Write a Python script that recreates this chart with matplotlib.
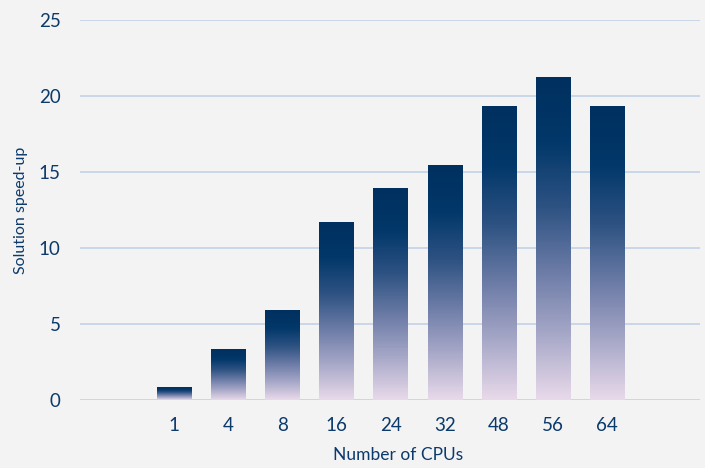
import numpy as np
import matplotlib.pyplot as plt
from matplotlib.colors import LinearSegmentedColormap

cpus = ['1', '4', '8', '16', '24', '32', '48', '56', '64']
speedup = [0.85, 3.3, 5.9, 11.7, 13.9, 15.4, 19.3, 21.2, 19.3]
yticks = [0, 5, 10, 15, 20, 25]

navy = '#0b3a6b'
grad = LinearSegmentedColormap.from_list(
    'bar', ['#e8d9ea', '#a7a8c8', '#6b7ba6', '#2d5282', '#02386a', '#00305f'])

fig = plt.figure(figsize=(7.05, 4.68), dpi=100)
fig.patch.set_facecolor('#f3f3f3')
ax = fig.add_axes([80 / 705, 1 - 400 / 468, 620 / 705, 380 / 468])
ax.set_facecolor('none')

x = np.arange(len(cpus))
w = 0.63
for i, v in enumerate(speedup):
    img = np.linspace(0, 1, 200).reshape(-1, 1)
    ax.imshow(img, cmap=grad, origin='lower', aspect='auto',
              extent=(x[i] - w / 2, x[i] + w / 2, 0, v), zorder=3)

ax.set_xlim(-1.73, 9.71)
ax.set_ylim(0, 25)
ax.set_yticks(yticks)
ax.set_xticks(x)
ax.set_xticklabels(cpus)
for t in yticks:
    ax.axhline(t, color='#c6d4e9', lw=1.3, zorder=1)

for s in ax.spines.values():
    s.set_visible(False)
ax.tick_params(length=0, colors=navy, labelsize=13.5)
ax.tick_params(axis='y', pad=14)
ax.tick_params(axis='x', pad=12)
for lab in ax.get_xticklabels() + ax.get_yticklabels():
    lab.set_fontfamily('Lato')

fig.text(398 / 705, 1 - 455 / 468, 'Number of CPUs', ha='center', va='center',
         color=navy, fontsize=12.5, family='Lato')
fig.text(21 / 705, 1 - 210 / 468, 'Solution speed-up', ha='center', va='center',
         rotation=90, color=navy, fontsize=11.5, family='Lato')

fig.savefig('out.png', dpi=100, facecolor=fig.get_facecolor())
